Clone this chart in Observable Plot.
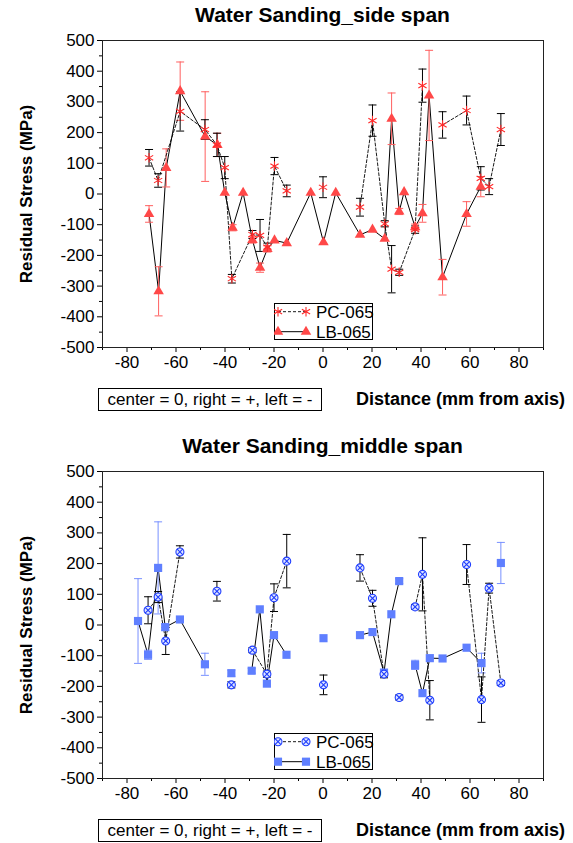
<!DOCTYPE html>
<html>
<head>
<meta charset="utf-8">
<script src="https://cdn.jsdelivr.net/npm/d3@7"></script>
<script src="https://cdn.jsdelivr.net/npm/@observablehq/plot@0.6"></script>
<style>
  body { margin: 0; background: white; }
  #root { position: relative; width: 573px; height: 843px; overflow: hidden; background: white;
          font-family: "Liberation Sans", Arial, sans-serif; color: black; }
  .abs { position: absolute; white-space: nowrap; }
  .title { font-weight: bold; font-size: 21px; text-align: center; line-height: 24px; }
  .ylab { font-weight: bold; font-size: 17px; text-align: center; line-height: 20px; transform: rotate(-90deg); }
  .xlab { font-weight: bold; font-size: 18px; text-align: right; line-height: 22px; }
  .note { box-sizing: border-box; border: 1px solid black; font-size: 17px; line-height: 21px; text-align: center; background: white; }
</style>
</head>
<body>
<div id="root"></div>
<script>
// ---------- data ----------
const xTicks = [-80, -60, -40, -20, 0, 20, 40, 60, 80];
const xMinor = [-90, -70, -50, -30, -10, 10, 30, 50, 70, 90];
const yTicks = [-500, -400, -300, -200, -100, 0, 100, 200, 300, 400, 500];
const yMinor = [-450, -350, -250, -150, -50, 50, 150, 250, 350, 450];

const seriesNames = ["PC-065", "LB-065"];
const chartTitles = ["Water Sanding_side span", "Water Sanding_middle span"];
const yLabel = "Residual Stress (MPa)";
const xLabel = "Distance (mm from axis)";
const noteText = "center = 0, right = +, left = -";

// side span, PC-065 (null = break in the line)
const sidePC_x   = [-71.0,-67.3,-58.3,-48.2,-43.3,-40.1,-37.2,-28.8,-25.7,-22.7,-19.8,-14.8,null,0,null,15.1,20.2,25.2,28.0,31.1,37.6,40.6,null,48.8,58.6,64.4,67.8,72.6];
const sidePC_y   = [118,44,269,210,160,86,-276,-132,-135,-173,91,10,null,22,null,-43,239,-97,-245,-255,-116,353,null,225,272,51,24,210];
const sidePC_err = [27,22,64,32,38,36,14,13,52,13,28,19,null,34,null,29,51,10,77,10,12,54,null,43,47,38,26,52];

// side span, LB-065
const sideLB_x   = [-71.0,-67.1,-64.0,-58.3,-48.1,-43.1,-40.1,-36.9,-32.6,-28.8,-25.7,-22.7,-19.8,-14.8,-5.0,0.2,5.2,15.1,20.2,25.2,28.0,31.1,33.1,37.6,40.6,43.3,48.8,58.6,64.4];
const sideLB_y   = [-65,-317,85,335,187,160,4,-110,4,-150,-240,-179,-151,-160,4,-157,4,-133,-116,-146,245,-57,6,-108,-63,321,-271,-65,24];
const sideLB_err = [27,80,62,95,146,38,0,10,0,10,15,10,0,0,0,0,0,0,0,0,84,10,0,10,29,147,58,40,33];

// middle span, PC-065
const midPC_x   = [-71.4,-67.3,-64.2,-58.4,null,-43.3,null,-37.4,null,-28.8,-22.9,-20.0,-14.8,null,0.2,null,15.1,20.2,24.9,null,31.1,null,37.6,40.6,43.6,null,58.6,64.7,67.8,72.6];
const midPC_y   = [48,91,-52,238,null,110,null,-195,null,-82,-160,89,208,null,-195,null,186,87,-160,null,-236,null,59,165,-245,null,197,-243,120,-189];
const midPC_err = [44,18,44,20,null,32,null,10,null,8,10,45,87,null,32,null,43,26,12,null,8,null,8,119,64,null,65,74,16,8];

// middle span, LB-065
const midLB_x   = [-75.5,-71.4,-67.3,-64.4,-58.4,-48.2,null,-37.4,null,-29.1,-25.8,-22.9,-20.0,-14.9,null,0.2,null,15.1,20.2,24.9,27.9,31.1,null,37.6,40.6,43.6,48.8,58.6,64.7,null,72.6];
const midLB_y   = [13,-97,186,-7,18,-128,null,-157,null,-149,51,-191,-33,-97,null,-43,null,-33,-23,-155,35,143,null,-130,-222,-108,-109,-74,-124,null,202];
const midLB_err = [138,15,150,10,0,36,null,10,null,8,0,0,0,0,null,0,null,0,0,10,0,8,null,15,0,0,0,0,32,null,67];

// ---------- helpers ----------
const FONT = "'Liberation Sans', Arial, sans-serif";
const capSym = { draw(ctx, size) { const r = Math.sqrt(size / Math.PI); ctx.moveTo(-r, 0); ctx.lineTo(r, 0); } };

function rows(xs, ys, es) { return xs.map((x, i) => ({ x, y: ys[i], e: es[i] })); }

function errMarks(data, color) {
  const d = data.filter(r => r.x != null && r.e > 0);
  return [
    Plot.ruleX(d, { x: "x", y1: r => r.y - r.e, y2: r => r.y + r.e, stroke: color, strokeWidth: 1 }),
    Plot.dot(d, { x: "x", y: r => r.y + r.e, symbol: capSym, r: 4, stroke: color, fill: "none", strokeWidth: 1 }),
    Plot.dot(d, { x: "x", y: r => r.y - r.e, symbol: capSym, r: 4, stroke: color, fill: "none", strokeWidth: 1 })
  ];
}

function makeChart(pc, lb, kind) {
  const red = "#ff2a2a", redTri = "#ff4848", redErr = "#ff5f5f";
  const blue = "#1d3cff", blueSq = "#5f7fff", blueErr = "#7890ff";
  const pcMarks = kind === "side"
    ? [Plot.dot(pc, { x: "x", y: "y", symbol: "asterisk", r: 4.5, stroke: red, strokeWidth: 1.1 })]
    : [Plot.dot(pc, { x: "x", y: "y", symbol: "circle", r: 4, stroke: blue, fill: "#dfe5ff", strokeWidth: 1.1 }),
       Plot.dot(pc, { x: "x", y: "y", symbol: "times", r: 2.8, stroke: blue, strokeWidth: 1.1 })];
  const lbMarks = kind === "side"
    ? [Plot.dot(lb, { x: "x", y: "y", symbol: "triangle", r: 3.9, fill: redTri, stroke: "none" })]
    : [Plot.dot(lb, { x: "x", y: "y", symbol: "square", r: 4.6, fill: blueSq, stroke: "none" })];
  return Plot.plot({
    width: 573, height: 380,
    marginTop: 40, marginBottom: 33, marginLeft: 102, marginRight: 30,
    x: { domain: [-90, 90] },
    y: { domain: [-500, 500] },
    style: { fontFamily: FONT, fontSize: "17px", color: "black", background: "transparent", overflow: "visible" },
    marks: [
      Plot.axisX({ ticks: xTicks, tickSize: 5, tickPadding: 3, tickFormat: d => String(d), label: null, fontSize: 17 }),
      Plot.axisX({ ticks: xMinor, tickSize: 3, tickFormat: () => "", label: null }),
      Plot.axisY({ ticks: yTicks, tickSize: 5, tickPadding: 3, tickFormat: d => String(d), label: null, fontSize: 17 }),
      Plot.axisY({ ticks: yMinor, tickSize: 3, tickFormat: () => "", label: null }),
      Plot.line(lb, { x: "x", y: "y", stroke: "black", strokeWidth: 1 }),
      ...errMarks(lb, kind === "side" ? redErr : blueErr),
      Plot.line(pc, { x: "x", y: "y", stroke: "black", strokeWidth: 0.9, strokeDasharray: "3,2" }),
      ...errMarks(pc, "black"),
      ...lbMarks,
      ...pcMarks,
      Plot.frame({ stroke: "#222", strokeWidth: 1 })
    ]
  });
}

function legend(root, left, top, kind) {
  const red = "#ff2a2a", redTri = "#ff4848", blue = "#1d3cff", blueSq = "#5f7fff";
  const svg = d3.select(root).append("svg")
    .style("position", "absolute").style("left", left + "px").style("top", top + "px")
    .attr("width", 100).attr("height", 38).style("font-family", FONT);
  svg.append("rect").attr("x", 0.5).attr("y", 0.5).attr("width", 98).attr("height", 36)
    .attr("fill", "white").attr("stroke", "black");
  const sym = (t, r) => d3.symbol().type(t).size(Math.PI * r * r)();
  seriesNames.forEach((name, i) => {
    const cy = 8.7 + i * 20;
    svg.append("line").attr("x1", 4).attr("x2", 32).attr("y1", cy).attr("y2", cy)
      .attr("stroke", "black").attr("stroke-width", i === 0 ? 0.9 : 1)
      .attr("stroke-dasharray", i === 0 ? "3,2" : null);
    [4, 32].forEach(sx => {
      const g = svg.append("g").attr("transform", `translate(${sx},${cy})`);
      if (kind === "side") {
        if (i === 0) g.append("path").attr("d", sym(d3.symbolAsterisk, 4.5)).attr("stroke", red).attr("fill", "none").attr("stroke-width", 1.1);
        else g.append("path").attr("d", sym(d3.symbolTriangle, 3.9)).attr("fill", redTri);
      } else {
        if (i === 0) {
          g.append("path").attr("d", sym(d3.symbolCircle, 4)).attr("stroke", blue).attr("fill", "#dfe5ff").attr("stroke-width", 1.1);
          g.append("path").attr("d", sym(d3.symbolTimes, 2.8)).attr("stroke", blue).attr("fill", "none").attr("stroke-width", 1.1);
        } else g.append("path").attr("d", sym(d3.symbolSquare, 4.6)).attr("fill", blueSq);
      }
    });
    svg.append("text").attr("x", 42).attr("y", cy + 6).attr("font-size", 17).text(name);
  });
}

function addDiv(root, cls, text, css) {
  const d = document.createElement("div");
  d.className = "abs " + cls;
  d.textContent = text;
  Object.assign(d.style, css);
  root.appendChild(d);
}

// ---------- layout ----------
const root = document.getElementById("root");
const panels = [
  { top: 0, pc: rows(sidePC_x, sidePC_y, sidePC_err), lb: rows(sideLB_x, sideLB_y, sideLB_err), kind: "side", legTop: 303 },
  { top: 431, pc: rows(midPC_x, midPC_y, midPC_err), lb: rows(midLB_x, midLB_y, midLB_err), kind: "mid", legTop: 733 }
];
panels.forEach((p, i) => {
  const svg = makeChart(p.pc, p.lb, p.kind);
  svg.style.position = "absolute";
  svg.style.left = "0px";
  svg.style.top = p.top + "px";
  root.appendChild(svg);
  const plotTop = p.top + 40, plotBottom = p.top + 347;
  addDiv(root, "title", chartTitles[i], { left: "102px", width: "441px", top: (plotTop - 37) + "px" });
  addDiv(root, "ylab", yLabel, { left: (27 - 155) + "px", width: "310px", top: ((plotTop + plotBottom) / 2 - 10) + "px" });
  addDiv(root, "note", noteText, { left: "98px", width: "224px", height: "23px", top: (plotBottom + 41) + "px" });
  addDiv(root, "xlab", xLabel, { left: "300px", width: "265px", top: (plotBottom + 41) + "px" });
  legend(root, 274, p.legTop, p.kind);
});
</script>
</body>
</html>
